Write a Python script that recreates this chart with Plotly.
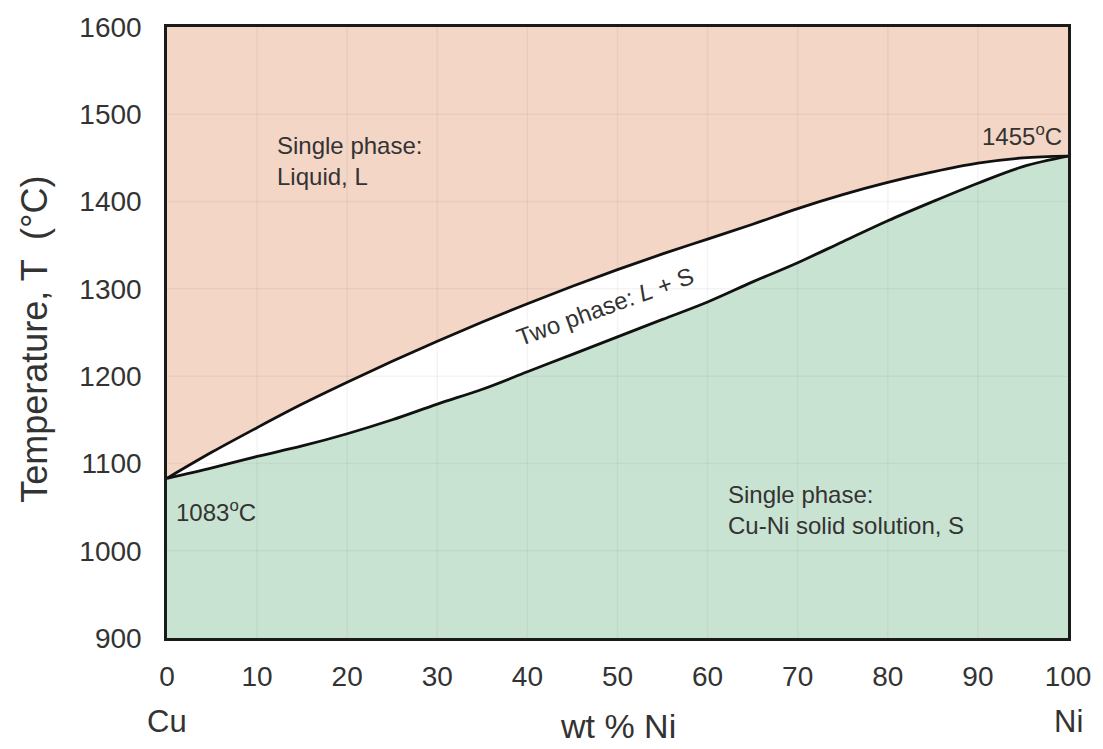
import plotly.graph_objects as go

wt_ni = [0, 5, 10, 15, 20, 25, 30, 35, 40, 45, 50, 55, 60, 65, 70, 75, 80, 85, 90, 95, 100]
liquidus = [1083, 1113, 1141, 1168, 1193, 1217, 1240, 1262, 1283, 1303, 1322, 1340, 1357, 1374,
            1392, 1408, 1422, 1434, 1444, 1450, 1452]
solidus = [1083, 1095, 1108, 1120, 1134, 1150, 1168, 1185, 1205, 1225, 1245, 1265, 1285, 1308,
           1330, 1354, 1378, 1400, 1421, 1440, 1452]
x_ticks = [0, 10, 20, 30, 40, 50, 60, 70, 80, 90, 100]
y_ticks = [900, 1000, 1100, 1200, 1300, 1400, 1500, 1600]
x_range = [0, 100]
y_range = [900, 1600]

LIQ_COLOR = "#f4d6c6"
SOL_COLOR = "#c9e3d2"
FONT = "Liberation Sans, Arial, sans-serif"
TXT = "#333333"

fig = go.Figure()

# Liquid region
fig.add_trace(go.Scatter(
    x=wt_ni + [x_range[1], x_range[0]],
    y=liquidus + [y_range[1], y_range[1]],
    fill="toself", fillcolor=LIQ_COLOR, mode="none", hoverinfo="skip", showlegend=False))
# Solid region
fig.add_trace(go.Scatter(
    x=wt_ni + [x_range[1], x_range[0]],
    y=solidus + [y_range[0], y_range[0]],
    fill="toself", fillcolor=SOL_COLOR, mode="none", hoverinfo="skip", showlegend=False))

# Faint grid drawn above fills
shapes = []
for xv in x_ticks[1:-1]:
    shapes.append(dict(type="line", xref="x", yref="y", x0=xv, x1=xv, y0=y_range[0], y1=y_range[1],
                       line=dict(color="rgba(0,0,0,0.045)", width=1.5), layer="above"))
for yv in y_ticks[1:-1]:
    shapes.append(dict(type="line", xref="x", yref="y", x0=x_range[0], x1=x_range[1], y0=yv, y1=yv,
                       line=dict(color="rgba(0,0,0,0.045)", width=1.5), layer="above"))

# Liquidus and solidus lines
fig.add_trace(go.Scatter(x=wt_ni, y=liquidus, mode="lines", line_shape="spline",
                         line=dict(color="#111111", width=2.8), hoverinfo="skip", showlegend=False))
fig.add_trace(go.Scatter(x=wt_ni, y=solidus, mode="lines", line_shape="spline",
                         line=dict(color="#111111", width=2.8), hoverinfo="skip", showlegend=False))

ANN = 24
annotations = [
    dict(x=12, y=1447, xref="x", yref="y", text="Single phase:<br>Liquid, L", showarrow=False,
         xanchor="left", yanchor="middle", align="left", font=dict(family=FONT, size=ANN, color=TXT)),
    dict(x=0.8, y=1046, xref="x", yref="y", text="1083<sup>o</sup>C", showarrow=False,
         xanchor="left", yanchor="middle", font=dict(family=FONT, size=ANN, color=TXT)),
    dict(x=99.5, y=1476, xref="x", yref="y", text="1455<sup>o</sup>C", showarrow=False,
         xanchor="right", yanchor="middle", font=dict(family=FONT, size=ANN, color=TXT)),
    dict(x=48.6, y=1280, xref="x", yref="y", text="Two phase: <i>L</i> + S", showarrow=False,
         textangle=-20, font=dict(family=FONT, size=ANN, color=TXT)),
    dict(x=62.0, y=1047, xref="x", yref="y", text="Single phase:<br>Cu-Ni solid solution, S",
         showarrow=False, xanchor="left", yanchor="middle", align="left",
         font=dict(family=FONT, size=ANN, color=TXT)),
    dict(x=0, y=-0.137, xref="x", yref="paper", text="Cu", showarrow=False,
         xanchor="center", yanchor="middle", font=dict(family=FONT, size=31, color=TXT)),
    dict(x=100, y=-0.137, xref="x", yref="paper", text="Ni", showarrow=False,
         xanchor="center", yanchor="middle", font=dict(family=FONT, size=31, color=TXT)),
    dict(x=50, y=-0.144, xref="x", yref="paper", text="wt % Ni", showarrow=False,
         xanchor="center", yanchor="middle", font=dict(family=FONT, size=34, color=TXT)),
    dict(x=-0.147, y=0.489, xref="paper", yref="paper", text="Temperature, T  (°C)",
         showarrow=False, textangle=-90, xanchor="center", yanchor="middle",
         font=dict(family=FONT, size=36, color=TXT)),
]

fig.update_layout(
    width=1103, height=749,
    margin=dict(l=167, r=35, t=24, b=111),
    paper_bgcolor="white", plot_bgcolor="white",
    shapes=shapes, annotations=annotations,
    font=dict(family=FONT, color=TXT),
)
fig.update_xaxes(range=x_range, tickvals=x_ticks, showgrid=False, zeroline=False,
                 showline=True, mirror=True, linecolor="#1a1a1a", linewidth=2.5,
                 ticks="", ticklabelstandoff=12, tickfont=dict(family=FONT, size=28, color=TXT))
fig.update_yaxes(range=y_range, tickvals=y_ticks, showgrid=False, zeroline=False,
                 showline=True, mirror=True, linecolor="#1a1a1a", linewidth=2.5,
                 ticks="", ticklabelstandoff=17, tickfont=dict(family=FONT, size=28, color=TXT))

fig.write_html("out.html")
